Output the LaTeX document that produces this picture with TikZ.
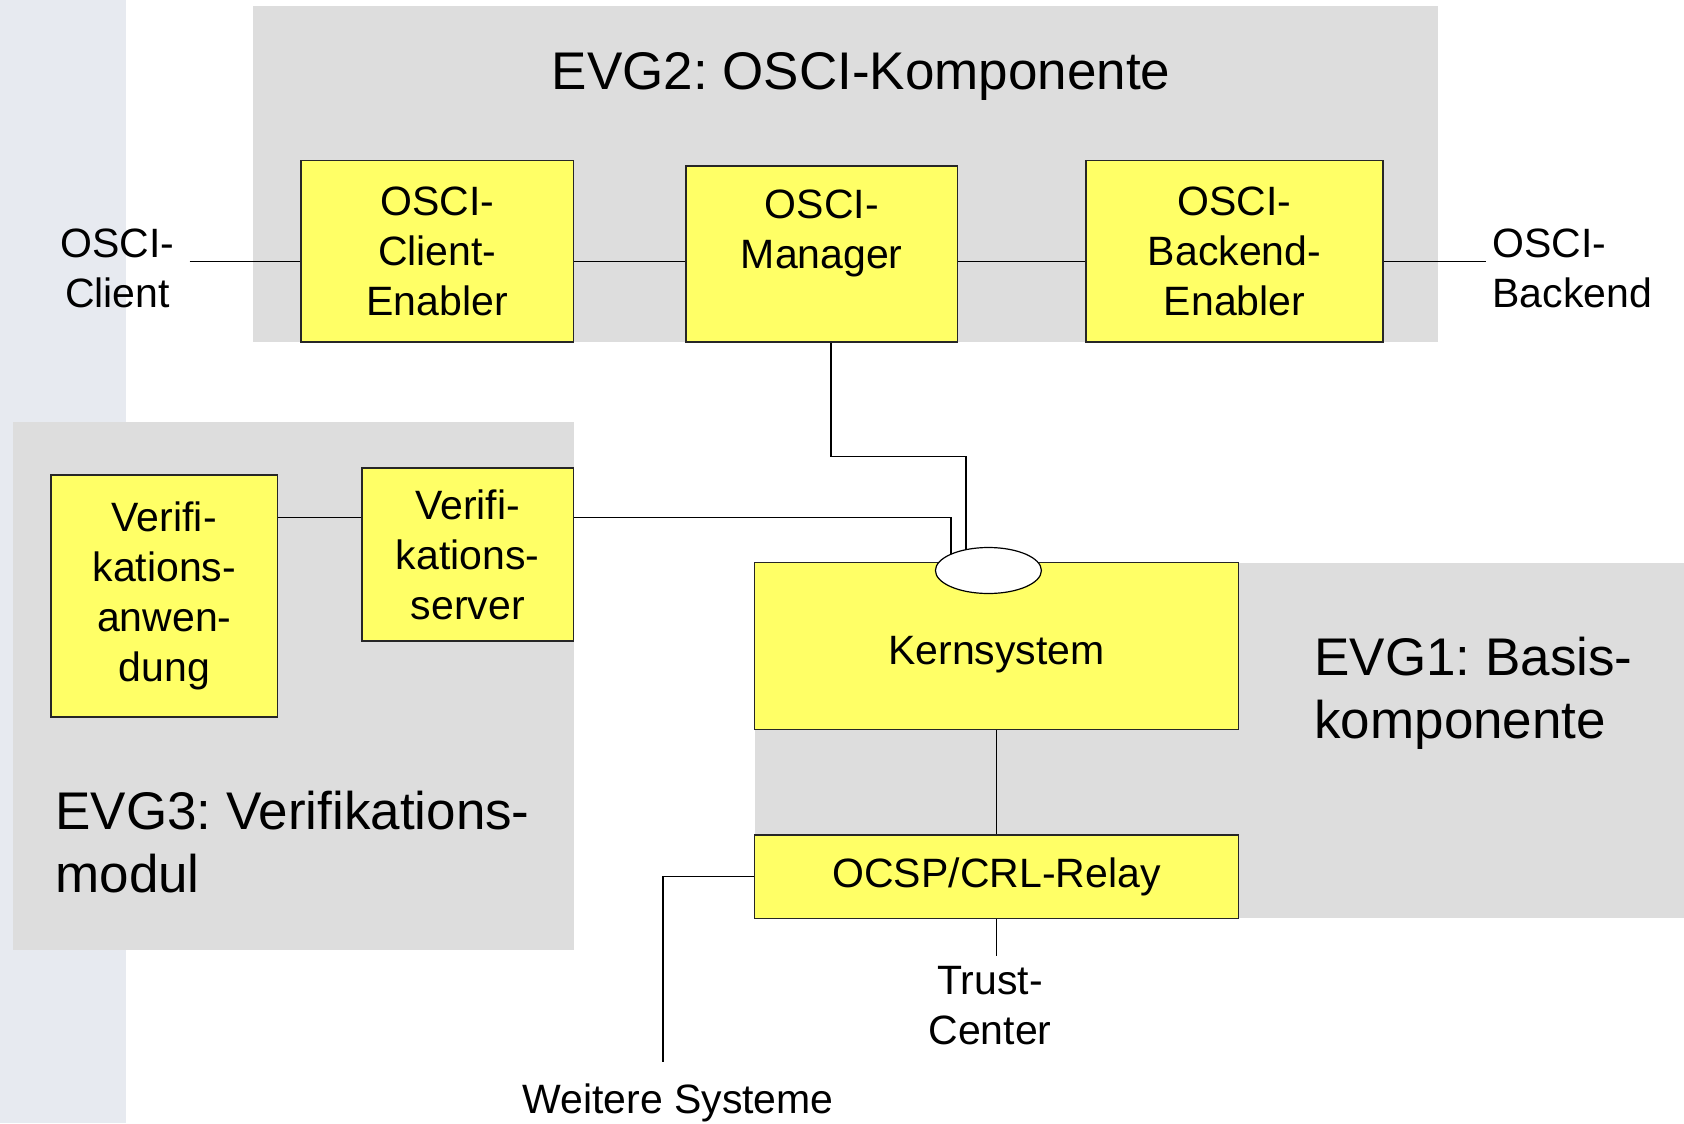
\documentclass[tikz,border=0pt]{standalone}
\usepackage{fontspec}
\setmainfont{Liberation Sans}
\usetikzlibrary{shapes.geometric}
\pgfdeclarelayer{bg}
\pgfsetlayers{bg,main}
\definecolor{boxyellow}{RGB}{255,255,102}
\definecolor{zonegrey}{RGB}{221,221,221}
\definecolor{stripgrey}{RGB}{231,234,240}
\frenchspacing

\begin{document}
\begin{tikzpicture}[x=0.5pt,y=-0.5pt,
  comp/.style={draw=black!85, line width=0.6pt, fill=boxyellow, inner sep=0pt,
               align=center, font=\fontsize{20.5}{25}\selectfont},
  lbl/.style={inner sep=0pt, font=\fontsize{20.5}{25}\selectfont},
  zonetitle/.style={inner sep=0pt, font=\fontsize{26.5}{31.5}\selectfont},
  wire/.style={line width=0.75pt, black}]
\useasboundingbox (0,0) rectangle (1684,1123);

% components
\node[comp, minimum width=136.25pt, minimum height=90.65pt] (cce) at (437.3,251.4) {OSCI-\\Client-\\Enabler};
\node[comp, minimum width=135.75pt, minimum height=88pt] (mgr) at (821.75,254) {OSCI-\\Manager\\\mbox{}};
\node[comp, minimum width=148.5pt, minimum height=90.65pt] (cbe) at (1234.5,251.4) {OSCI-\\Backend-\\Enabler};
\node[comp, minimum width=113.3pt, minimum height=121pt] (va) at (164.3,596) {Verifi-\\kations-\\anwen-\\dung};
\node[comp, minimum width=105.75pt, minimum height=86.5pt] (vs) at (467.75,554.5) {Verifi-\\kations-\\server};
\node[comp, minimum width=242pt, minimum height=83.2pt, text depth=0pt] (kern) at (996.5,646) {\raisebox{-4.5pt}{Kernsystem}};
\node[comp, minimum width=242pt, minimum height=41.7pt] (relay) at (996.5,876.7) {OCSP/CRL-Relay};
\node[ellipse, draw=black, line width=0.6pt, fill=white, minimum width=53pt,
      minimum height=23pt, inner sep=0pt] (port) at (988.4,570.5) {};

% outside labels
\node[lbl, align=center, anchor=north] (oc) at (117.5,228.5) {OSCI-\\Client};
\node[lbl, align=left, anchor=north west] (ob) at (1492,228.5) {OSCI-\\Backend};
\node[lbl, align=center, anchor=north] (tc) at (990,965.6) {Trust-\\Center};
\node[lbl, anchor=north] (ws) at (678,1083.5) {Weitere Systeme};

% zone titles
\node[zonetitle, anchor=north] (t2) at (861,51.8) {EVG2: OSCI-Komponente};
\node[zonetitle, align=left, anchor=north west] (t1) at (1314,637) {EVG1: Basis-\\komponente};
\node[zonetitle, align=left, anchor=north west] (t3) at (55,791) {EVG3: Verifikations-\\modul};

% connector bends and free ends
\coordinate (clientend) at (189.6,261.7);
\coordinate (backendend) at (1486,261.7);
\coordinate (mbend) at (830.8,456.3);
\coordinate (mtap) at (966,456.3);
\coordinate (vsbend) at (951,517.3);
\coordinate (trustend) at (996,956);
\coordinate (wsend) at (663,1062);

\begin{pgfonlayer}{bg}
  \fill[stripgrey] (0,0) rectangle (126,1123);
  \fill[zonegrey] (253,6) rectangle (1438,342);
  \fill[zonegrey] (13,422) rectangle (573.5,950);
  \fill[zonegrey] (754.6,562.8) rectangle (1684,918.4);

  \draw[wire] (clientend) -- (clientend -| cce.west);
  \draw[wire] (cce.east |- clientend) -- (mgr.west |- clientend);
  \draw[wire] (mgr.east |- clientend) -- (cbe.west |- clientend);
  \draw[wire] (cbe.east |- clientend) -- (backendend);
  \draw[wire] (mgr.south -| mbend) -- (mbend) -- (mtap) -- (mtap |- port.center);
  \draw[wire] (va.east |- vsbend) -- (vs.west |- vsbend);
  \draw[wire] (vs.east |- vsbend) -- (vsbend) -- (vsbend |- port.center);
  \draw[wire] (kern.south) -- (relay.north);
  \draw[wire] (relay.south) -- (relay.south |- trustend);
  \draw[wire] (relay.west) -- (relay.west -| wsend) -- (wsend);
\end{pgfonlayer}
\end{tikzpicture}
\end{document}
